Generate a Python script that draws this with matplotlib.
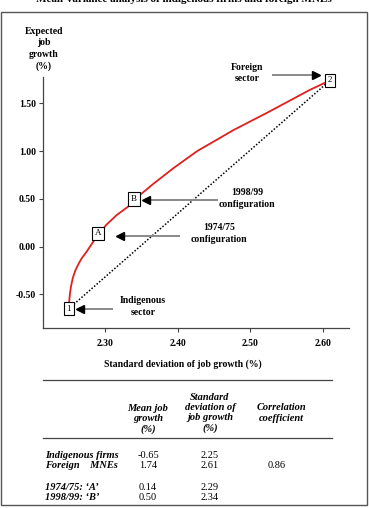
import matplotlib
matplotlib.use("Agg")
import matplotlib.pyplot as plt
from matplotlib.patches import Rectangle

plt.rcParams['font.family'] = ['Liberation Serif', 'DejaVu Serif']

# efficient frontier (sd %, mean %)
sd_frontier = [2.25, 2.2505, 2.2515, 2.253, 2.2555, 2.259, 2.2635, 2.268, 2.274, 2.281,
               2.289, 2.302, 2.316, 2.332, 2.348, 2.367, 2.394, 2.427, 2.452, 2.477,
               2.500, 2.523, 2.555, 2.582, 2.61]
mean_frontier = [-0.65, -0.58, -0.50, -0.42, -0.33, -0.25, -0.18, -0.12, -0.06, 0.02,
                 0.11, 0.23, 0.33, 0.42, 0.54, 0.66, 0.82, 1.00, 1.11, 1.22,
                 1.31, 1.40, 1.53, 1.64, 1.74]

# the two sectors and the two configurations
sector_labels = ["1", "2"]
sector_sd = [2.25, 2.61]
sector_mean = [-0.65, 1.74]
config_labels = ["A", "B"]
config_sd = [2.29, 2.34]
config_mean = [0.14, 0.50]

x_ticks = [2.30, 2.40, 2.50, 2.60]
y_ticks = [-0.50, 0.00, 0.50, 1.00, 1.50]

# table under the chart
row_names = ["Indigenous firms", "Foreign    MNEs", "1974/75: \u2018A\u2019", "1998/99: \u2018B\u2019"]
row_mean = [-0.65, 1.74, 0.14, 0.50]
row_sd = [2.25, 2.61, 2.29, 2.34]
correlation = 0.86

W, H = 369, 508
fig = plt.figure(figsize=(W / 100, H / 100), dpi=100)


def fx(px):
    return px / W


def fy(py):
    return 1 - py / H


# frame round the whole exhibit
fig.patches.append(Rectangle((fx(0.5), fy(505)), fx(367) - fx(0.5), fy(12) - fy(505),
                             transform=fig.transFigure, fill=False, ec='#555555', lw=1.0))

# title is cut by the top edge, as in the source scan
fig.text(fx(184), fy(2.0), "Mean-variance analysis of indigenous firms and foreign MNEs",
         ha='center', va='baseline', fontsize=8, fontweight='bold')

ax = fig.add_axes([fx(43), fy(328), fx(349) - fx(43), fy(77) - fy(328)])
ax.set_xlim(2.2145, 2.636)
ax.set_ylim(-0.852, 1.775)
for s in ['top', 'right']:
    ax.spines[s].set_visible(False)
for s in ['left', 'bottom']:
    ax.spines[s].set_color('#444444')
    ax.spines[s].set_linewidth(0.9)
ax.set_xticks(x_ticks)
ax.set_xticklabels(["%.2f" % v for v in x_ticks], fontweight='bold')
ax.set_yticks(y_ticks)
ax.set_yticklabels(["%.2f" % v for v in y_ticks], fontweight='bold')
ax.tick_params(labelsize=7, length=3, width=0.8, color='#444444', pad=2)
ax.tick_params(axis='x', pad=5)

# straight line between the sectors and the frontier
ax.plot(sector_sd, sector_mean, color='black', lw=1.1, ls=(0, (1, 1.2)), zorder=2)
ax.plot(sd_frontier, mean_frontier, color='#e0201c', lw=1.3, zorder=3)

for lab, x, y in zip(sector_labels + config_labels, sector_sd + config_sd, sector_mean + config_mean):
    ax.text(x, y, lab, ha='center', va='center', fontsize=6.5, zorder=5, clip_on=False,
            bbox=dict(boxstyle='square,pad=0.3', fc='white', ec='black', lw=0.8))


def arrow(x0, x1, y):
    ax.plot([x0, x1], [y, y], color='#8a8a8a', lw=1.4, clip_on=False, zorder=4)
    ax.plot(x1, y, marker='>' if x1 > x0 else '<', color='black', ms=6,
            clip_on=False, zorder=4)


note = dict(ha='center', va='center', fontsize=7, fontweight='bold', linespacing=1.4)
arrow(2.532, 2.590, 1.795)
ax.text(2.496, 1.816, "Foreign\nsector", **note)
arrow(2.4545, 2.356, 0.49)
ax.text(2.496, 0.506, "1998/99\nconfiguration", **note)
arrow(2.402, 2.320, 0.1075)
ax.text(2.457, 0.136, "1974/75\nconfiguration", **note)
arrow(2.3097, 2.265, -0.65)
ax.text(2.352, -0.623, "Indigenous\nsector", **note)

fig.text(fx(44), fy(48.7), "Expected\njob\ngrowth\n(%)", ha='center', va='center',
         fontsize=7, fontweight='bold', linespacing=1.35)
fig.text(fx(183), fy(364), "Standard deviation of job growth (%)", ha='center',
         va='center', fontsize=7, fontweight='bold')

# table
for yl in [380, 438]:
    fig.add_artist(plt.Line2D([fx(43), fx(332)], [fy(yl), fy(yl)], color='#444444', lw=0.9))

hdr = dict(fontsize=7.5, fontweight='bold', fontstyle='italic', ha='center', va='center',
           linespacing=1.15)
fig.text(fx(148), fy(419), "Mean job\ngrowth\n(%)", **hdr)
fig.text(fx(210), fy(413), "Standard\ndeviation of\njob growth\n(%)", **hdr)
fig.text(fx(281), fy(413), "Correlation\ncoefficient", **hdr)

row_y = [455, 466, 487, 498]
for name, m, s, yy in zip(row_names, row_mean, row_sd, row_y):
    fig.text(fx(45), fy(yy), name, fontsize=7.5, fontweight='bold', fontstyle='italic',
             ha='left', va='center')
    fig.text(fx(148), fy(yy), "%.2f" % m, fontsize=7.5, ha='center', va='center')
    fig.text(fx(210), fy(yy), "%.2f" % s, fontsize=7.5, ha='center', va='center')
fig.text(fx(277), fy(row_y[1]), "%.2f" % correlation, fontsize=7.5, ha='center', va='center')

fig.savefig("out.png", dpi=100)
